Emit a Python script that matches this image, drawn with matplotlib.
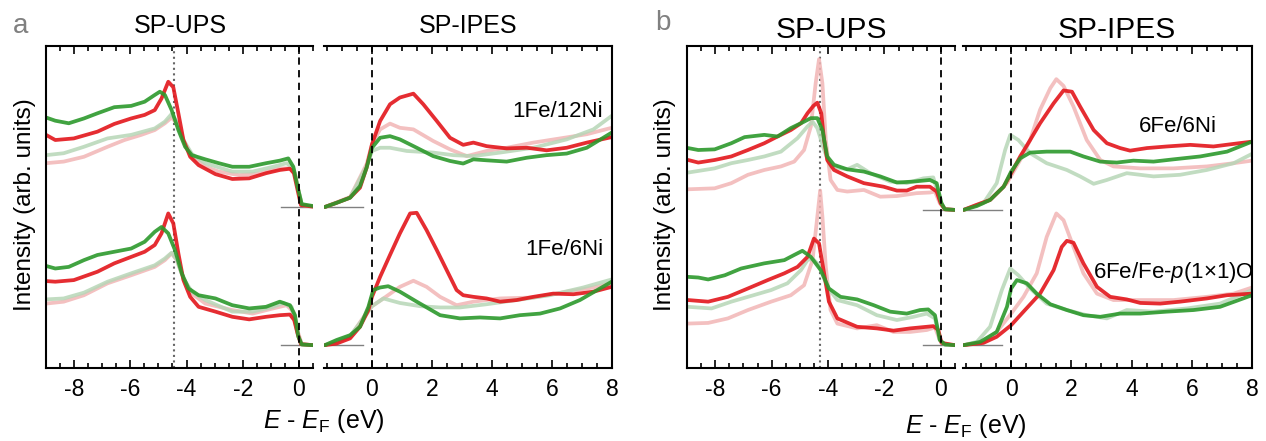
import matplotlib
matplotlib.use('Agg')
import matplotlib.pyplot as plt
from matplotlib.ticker import MultipleLocator

plt.rcParams['font.family'] = ['Liberation Sans', 'DejaVu Sans']
plt.rcParams['mathtext.fontset'] = 'custom'
plt.rcParams['mathtext.it'] = 'Liberation Sans:italic'
plt.rcParams['mathtext.rm'] = 'Liberation Sans'
plt.rcParams['axes.unicode_minus'] = False

# ---------------- panel a, 1Fe/12Ni (upper) ----------------
a1_ups_red_x = [-9.0, -8.67, -8.01, -7.17, -6.57, -5.97, -5.49, -5.13, -4.89, -4.65, -4.47, -4.29, -4.11, -3.87, -3.57, -2.97, -2.37, -1.77, -1.17, -0.68, -0.32, -0.18, -0.05, 0.07, 0.5]
a1_ups_red_y = [2.24, 2.08, 2.13, 2.34, 2.58, 2.75, 2.86, 3.01, 3.37, 3.89, 3.72, 2.91, 2.08, 1.56, 1.30, 1.02, 0.87, 0.89, 1.05, 1.15, 1.19, 1.05, 0.53, 0.06, 0.01]
a1_ups_grn_x = [-9.0, -8.67, -8.19, -7.65, -7.17, -6.57, -5.97, -5.49, -5.13, -4.95, -4.77, -4.53, -4.29, -4.05, -3.81, -3.33, -2.85, -2.37, -1.77, -1.17, -0.68, -0.38, -0.20, -0.05, 0.10, 0.5]
a1_ups_grn_y = [2.78, 2.68, 2.60, 2.75, 2.91, 3.10, 3.14, 3.27, 3.48, 3.58, 3.48, 3.01, 2.39, 1.87, 1.61, 1.48, 1.36, 1.25, 1.25, 1.36, 1.44, 1.51, 1.25, 0.63, 0.09, 0.03]
a1_ups_lred_x = [-9.0, -8.37, -7.65, -6.81, -6.21, -5.61, -5.13, -4.77, -4.53, -4.35, -4.11, -3.81, -3.33, -2.85, -2.13, -1.41, -0.68, -0.32, -0.14, -0.02, 0.10, 0.5]
a1_ups_lred_y = [1.36, 1.41, 1.56, 1.87, 2.08, 2.24, 2.39, 2.60, 2.78, 2.60, 2.08, 1.56, 1.25, 1.10, 0.99, 1.04, 1.20, 1.20, 1.05, 0.53, 0.06, 0.02]
a1_ups_lgrn_x = [-9.0, -8.37, -7.65, -6.81, -5.97, -5.13, -4.77, -4.53, -4.35, -4.11, -3.81, -3.33, -2.37, -1.65, -0.92, -0.44, -0.20, -0.02, 0.10, 0.5]
a1_ups_lgrn_y = [1.61, 1.67, 1.87, 2.13, 2.24, 2.44, 2.65, 2.89, 2.65, 2.08, 1.65, 1.36, 1.10, 1.10, 1.25, 1.36, 1.20, 0.53, 0.06, 0.02]

a1_ipes_red_x = [-1.57, -1.18, -0.73, -0.40, -0.18, 0, 0.27, 0.6, 0.93, 1.38, 1.71, 2.16, 2.6, 3.04, 3.38, 3.82, 4.49, 5.16, 5.82, 6.49, 7.16, 7.99]
a1_ipes_red_y = [0, 0.13, 0.29, 0.60, 1.22, 1.95, 2.67, 3.19, 3.40, 3.52, 3.19, 2.67, 2.15, 1.93, 2.0, 1.89, 1.82, 1.84, 1.76, 1.84, 2.0, 2.17]
a1_ipes_grn_x = [-1.57, -1.18, -0.73, -0.40, -0.18, 0, 0.27, 0.6, 0.93, 1.49, 2.04, 2.6, 3.04, 3.38, 3.82, 4.49, 5.16, 5.82, 6.49, 7.16, 7.99]
a1_ipes_grn_y = [0, 0.13, 0.29, 0.65, 1.22, 1.84, 2.15, 2.2, 2.1, 1.84, 1.58, 1.43, 1.35, 1.48, 1.45, 1.41, 1.53, 1.61, 1.66, 1.84, 2.31]
a1_ipes_lred_x = [-1.57, -0.73, -0.18, 0, 0.27, 0.6, 0.93, 1.38, 2.04, 2.6, 3.16, 3.82, 4.49, 5.38, 6.27, 7.16, 7.99]
a1_ipes_lred_y = [0, 0.31, 1.33, 1.95, 2.41, 2.59, 2.46, 2.41, 2.05, 1.79, 1.58, 1.74, 1.84, 2.0, 2.13, 2.26, 2.46]
a1_ipes_lgrn_x = [-1.57, -0.73, -0.18, 0, 0.27, 0.6, 1.16, 2.04, 2.71, 3.38, 4.27, 5.38, 6.49, 7.38, 7.99]
a1_ipes_lgrn_y = [0, 0.29, 1.27, 1.74, 1.84, 1.84, 1.74, 1.69, 1.61, 1.58, 1.69, 1.84, 2.10, 2.41, 2.83]

# ---------------- panel a, 1Fe/6Ni (lower) ----------------
a2_ups_red_x = [-9.0, -8.67, -8.01, -7.17, -6.57, -5.97, -5.49, -5.13, -4.89, -4.65, -4.47, -4.29, -4.11, -3.87, -3.57, -2.97, -2.37, -1.77, -1.17, -0.68, -0.32, -0.17, -0.05, 0.07, 0.5]
a2_ups_red_y = [1.99, 1.97, 2.02, 2.28, 2.54, 2.74, 2.90, 3.11, 3.47, 4.09, 3.78, 2.85, 2.02, 1.50, 1.19, 1.04, 0.88, 0.80, 0.88, 0.93, 0.95, 0.78, 0.36, 0.03, 0]
a2_ups_grn_x = [-9.0, -8.67, -8.19, -7.65, -7.17, -6.57, -5.97, -5.49, -5.13, -4.89, -4.65, -4.41, -4.17, -3.93, -3.57, -2.97, -2.37, -1.77, -1.17, -0.68, -0.32, -0.14, -0.02, 0.10, 0.5]
a2_ups_grn_y = [2.46, 2.38, 2.43, 2.64, 2.80, 2.90, 3.0, 3.21, 3.52, 3.67, 3.47, 2.95, 2.23, 1.76, 1.55, 1.45, 1.24, 1.14, 1.19, 1.35, 1.24, 0.93, 0.26, 0.02, 0.0]
a2_ups_lred_x = [-9.0, -8.37, -7.65, -6.81, -5.97, -5.13, -4.77, -4.53, -4.35, -4.11, -3.81, -3.33, -2.37, -1.65, -0.92, -0.44, -0.20, -0.02, 0.10, 0.5]
a2_ups_lred_y = [1.29, 1.35, 1.55, 1.92, 2.17, 2.43, 2.64, 2.85, 2.64, 2.07, 1.60, 1.29, 1.09, 0.98, 1.14, 1.24, 1.04, 0.36, 0.03, 0]
a2_ups_lgrn_x = [-9.0, -8.37, -7.65, -6.81, -5.97, -5.13, -4.77, -4.53, -4.35, -4.11, -3.81, -3.33, -2.37, -1.65, -0.92, -0.56, -0.26, -0.05, 0.10, 0.5]
a2_ups_lgrn_y = [1.42, 1.45, 1.63, 1.97, 2.23, 2.48, 2.69, 2.87, 2.66, 2.07, 1.66, 1.40, 1.04, 1.04, 1.19, 1.31, 1.19, 0.36, 0.03, 0]

a2_ipes_red_x = [-1.57, -1.18, -0.73, -0.40, -0.12, 0, 0.27, 0.6, 0.93, 1.27, 1.49, 1.82, 2.16, 2.49, 2.82, 3.04, 3.38, 3.82, 4.27, 4.82, 5.38, 6.04, 6.71, 7.38, 7.99]
a2_ipes_red_y = [0, 0.05, 0.21, 0.57, 1.09, 1.50, 2.12, 2.80, 3.47, 4.09, 4.11, 3.57, 2.95, 2.33, 1.71, 1.55, 1.50, 1.45, 1.35, 1.40, 1.50, 1.60, 1.58, 1.66, 1.81]
a2_ipes_grn_x = [-1.57, -1.18, -0.73, -0.40, -0.12, 0.04, 0.27, 0.54, 0.93, 1.49, 2.27, 2.93, 3.6, 4.27, 4.93, 5.6, 6.27, 6.93, 7.6, 7.99]
a2_ipes_grn_y = [0, 0.16, 0.31, 0.57, 1.19, 1.71, 1.79, 1.83, 1.66, 1.35, 0.93, 0.83, 0.86, 0.83, 0.93, 0.98, 1.14, 1.40, 1.76, 1.97]
a2_ipes_lred_x = [-1.57, -0.73, -0.12, 0, 0.38, 0.93, 1.38, 1.82, 2.27, 2.82, 3.38, 4.27, 5.38, 6.49, 7.38, 7.99]
a2_ipes_lred_y = [0, 0.26, 1.09, 1.21, 1.45, 1.81, 2.0, 1.81, 1.50, 1.24, 1.35, 1.45, 1.48, 1.66, 1.79, 1.92]
a2_ipes_lgrn_x = [-1.57, -0.73, -0.12, 0, 0.38, 0.93, 1.6, 2.27, 2.93, 3.82, 4.82, 5.93, 7.04, 7.99]
a2_ipes_lgrn_y = [0, 0.28, 1.04, 1.21, 1.45, 1.31, 1.21, 1.17, 1.17, 1.27, 1.40, 1.55, 1.79, 2.04]

# ---------------- panel b, 6Fe/6Ni (upper) ----------------
b1_ups_red_x = [-8.96, -8.60, -8.02, -7.43, -6.84, -6.26, -5.79, -5.32, -4.96, -4.73, -4.52, -4.38, -4.24, -4.14, -4.03, -3.79, -3.32, -2.73, -2.03, -1.56, -1.21, -0.86, -0.39, -0.15, -0.01, 0.14, 0.49]
b1_ups_red_y = [1.55, 1.47, 1.55, 1.66, 1.86, 2.07, 2.28, 2.48, 2.69, 3.0, 3.23, 3.33, 3.0, 2.17, 1.55, 1.24, 1.04, 0.83, 0.72, 0.60, 0.60, 0.72, 0.72, 0.57, 0.21, 0.02, 0]
b1_ups_grn_x = [-8.96, -8.60, -8.02, -7.43, -6.96, -6.26, -5.79, -5.32, -4.85, -4.61, -4.38, -4.20, -4.03, -3.79, -3.32, -2.73, -2.15, -1.56, -0.97, -0.39, -0.15, 0.02, 0.14, 0.49]
b1_ups_grn_y = [1.92, 1.86, 1.88, 2.07, 2.26, 2.33, 2.28, 2.54, 2.74, 2.85, 2.85, 2.48, 1.66, 1.40, 1.26, 1.19, 1.04, 0.85, 0.88, 0.93, 0.83, 0.21, 0.02, 0]
b1_ups_lred_x = [-8.96, -8.02, -7.43, -6.84, -6.26, -5.67, -5.20, -4.85, -4.61, -4.44, -4.32, -4.20, -4.08, -3.91, -3.67, -3.32, -2.73, -2.15, -1.56, -0.86, -0.39, -0.21, -0.04, 0.14, 0.49]
b1_ups_lred_y = [0.64, 0.67, 0.83, 1.09, 1.24, 1.35, 1.50, 1.86, 2.59, 3.93, 4.68, 3.93, 2.17, 0.93, 0.62, 0.57, 0.62, 0.41, 0.43, 0.52, 0.54, 0.57, 0.21, 0.02, 0]
b1_ups_lgrn_x = [-8.96, -8.02, -7.43, -6.84, -6.26, -5.67, -5.08, -4.73, -4.55, -4.38, -4.14, -3.91, -3.32, -2.97, -2.50, -1.80, -1.21, -0.62, -0.27, -0.04, 0.14, 0.49]
b1_ups_lgrn_y = [1.16, 1.29, 1.45, 1.55, 1.66, 1.81, 2.23, 2.59, 2.74, 2.54, 1.86, 1.35, 1.26, 1.40, 1.14, 0.88, 0.83, 0.98, 1.01, 0.31, 0.02, 0]

b1_ipes_red_x = [-1.58, -1.14, -0.70, -0.25, 0, 0.30, 0.63, 0.96, 1.41, 1.74, 2.02, 2.29, 2.74, 3.18, 3.62, 3.95, 4.51, 5.17, 5.95, 6.72, 7.39, 8.0]
b1_ipes_red_y = [0, 0.16, 0.31, 0.72, 1.14, 1.66, 2.17, 2.69, 3.31, 3.71, 3.67, 3.21, 2.48, 2.07, 1.92, 1.84, 1.92, 1.97, 2.02, 1.97, 2.05, 2.12]
b1_ipes_grn_x = [-1.58, -1.14, -0.70, -0.25, 0, 0.30, 0.63, 1.18, 1.96, 2.40, 2.96, 3.51, 4.06, 4.73, 5.39, 6.28, 7.17, 8.0]
b1_ipes_grn_y = [0, 0.12, 0.31, 0.72, 1.19, 1.60, 1.78, 1.81, 1.81, 1.66, 1.50, 1.47, 1.53, 1.50, 1.57, 1.66, 1.81, 2.12]
b1_ipes_lred_x = [-1.58, -0.70, -0.14, 0.30, 0.63, 0.96, 1.30, 1.50, 1.74, 2.07, 2.51, 2.96, 3.40, 4.29, 5.39, 6.50, 7.39, 8.0]
b1_ipes_lred_y = [0, 0.31, 0.83, 1.55, 2.17, 3.11, 3.78, 4.06, 3.85, 3.21, 2.17, 1.55, 1.35, 1.29, 1.29, 1.35, 1.45, 1.53]
b1_ipes_lgrn_x = [-1.58, -0.92, -0.48, -0.20, -0.03, 0.24, 0.63, 1.18, 1.85, 2.29, 2.74, 3.18, 3.84, 4.73, 5.61, 6.50, 7.39, 8.0]
b1_ipes_lgrn_y = [0, 0.21, 0.83, 1.86, 2.33, 2.17, 1.76, 1.45, 1.24, 1.04, 0.81, 0.93, 1.14, 1.04, 1.09, 1.24, 1.45, 1.74]

# ---------------- panel b, 6Fe/Fe-p(1x1)O (lower) ----------------
b2_ups_red_x = [-8.96, -8.25, -7.55, -6.84, -6.14, -5.55, -5.08, -4.73, -4.50, -4.32, -4.14, -3.97, -3.67, -2.97, -2.27, -1.68, -1.09, -0.50, -0.27, -0.09, 0.02, 0.49]
b2_ups_red_y = [1.40, 1.35, 1.50, 1.76, 2.02, 2.23, 2.43, 2.74, 3.31, 3.16, 2.23, 1.35, 0.83, 0.57, 0.52, 0.45, 0.52, 0.57, 0.59, 0.47, 0.07, 0]
b2_ups_grn_x = [-8.96, -8.60, -8.25, -7.66, -7.08, -6.26, -5.55, -5.20, -4.91, -4.61, -4.26, -3.97, -3.56, -2.97, -2.38, -1.80, -1.21, -0.74, -0.45, -0.21, -0.04, 0.14, 0.49]
b2_ups_grn_y = [2.12, 2.10, 2.04, 2.17, 2.38, 2.54, 2.64, 2.80, 2.93, 2.74, 2.33, 1.76, 1.50, 1.42, 1.24, 1.04, 0.98, 1.09, 1.11, 0.93, 0.16, 0.02, 0]
b2_ups_lred_x = [-8.96, -8.25, -7.55, -6.84, -6.02, -5.32, -4.85, -4.55, -4.38, -4.28, -4.20, -4.08, -3.91, -3.67, -2.97, -2.27, -1.68, -1.09, -0.50, -0.21, -0.04, 0.14, 0.49]
b2_ups_lred_y = [0.67, 0.69, 0.83, 1.09, 1.35, 1.55, 1.86, 2.64, 3.99, 4.8, 3.99, 2.43, 1.09, 0.67, 0.52, 0.62, 0.41, 0.41, 0.47, 0.55, 0.16, 0.02, 0]
b2_ups_lgrn_x = [-8.96, -8.13, -7.43, -6.84, -6.02, -5.44, -4.96, -4.73, -4.55, -4.32, -4.03, -3.67, -2.97, -2.27, -1.56, -0.97, -0.50, -0.21, -0.04, 0.14, 0.49]
b2_ups_lgrn_y = [1.19, 1.14, 1.35, 1.50, 1.71, 1.92, 2.33, 2.64, 2.69, 2.48, 1.81, 1.40, 1.24, 0.93, 0.78, 0.88, 0.98, 0.83, 0.16, 0.02, 0]

b2_ipes_red_x = [-1.58, -0.92, -0.48, 0, 0.41, 0.96, 1.41, 1.68, 1.85, 2.07, 2.40, 2.85, 3.29, 3.84, 4.29, 4.95, 5.61, 6.50, 7.17, 8.0]
b2_ipes_red_y = [0, 0.07, 0.26, 0.62, 1.04, 1.60, 2.33, 3.05, 3.24, 3.18, 2.54, 1.81, 1.50, 1.42, 1.31, 1.29, 1.35, 1.45, 1.55, 1.60]
b2_ipes_grn_x = [-1.58, -1.03, -0.48, -0.14, 0, 0.19, 0.52, 0.85, 1.30, 1.85, 2.40, 2.96, 3.62, 4.29, 5.17, 6.06, 6.94, 8.0]
b2_ipes_grn_y = [0, 0.10, 0.41, 1.19, 1.76, 2.02, 1.92, 1.60, 1.27, 1.09, 0.93, 0.88, 0.98, 0.98, 1.04, 1.09, 1.19, 1.55]
b2_ipes_lred_x = [-1.58, -0.92, -0.48, 0, 0.41, 0.85, 1.18, 1.50, 1.74, 2.07, 2.40, 2.85, 3.40, 4.29, 5.39, 6.50, 7.39, 8.0]
b2_ipes_lred_y = [0, 0.10, 0.41, 0.98, 1.50, 2.23, 3.36, 4.09, 3.88, 3.05, 2.23, 1.60, 1.40, 1.40, 1.40, 1.50, 1.60, 1.79]
b2_ipes_lgrn_x = [-1.58, -1.14, -0.70, -0.31, -0.03, 0.24, 0.63, 1.18, 1.85, 2.51, 3.18, 3.84, 4.73, 5.84, 6.94, 8.0]
b2_ipes_lgrn_y = [0, 0.10, 0.57, 1.71, 2.38, 2.17, 1.76, 1.29, 1.09, 0.93, 0.83, 1.09, 1.04, 1.14, 1.29, 1.71]

# vertical offsets of the two stacked spectra, and peak markers
a_offsets = [5.0, 0.71]
b_offsets = [4.91, 0.71]
a_peak = -4.45
b_peak = -4.28

RED = '#e3161b'
GREEN = '#2c992c'
LRED = '#f2b5b5'
LGREEN = '#b7d6b7'

W, H = 1266, 441


def box(x0, x1, y0=46, y1=368):
    return [x0 / W, 1 - y1 / H, (x1 - x0) / W, (y1 - y0) / H]


def setup(ax, xlim, hide):
    ax.set_xlim(*xlim)
    ax.set_ylim(0, 10)
    ax.xaxis.set_major_locator(MultipleLocator(2))
    ax.xaxis.set_minor_locator(MultipleLocator(0.5))
    ax.tick_params(axis='x', which='both', direction='in', top=True, width=1.2, labelsize=16.5)
    ax.tick_params(axis='x', which='major', length=6, pad=7)
    ax.tick_params(axis='x', which='minor', length=3.5)
    ax.set_yticks([])
    for s in ax.spines.values():
        s.set_linewidth(1.5)
    ax.spines[hide].set_visible(False)


def spectrum(ax, off, curves):
    (rx, ry), (gx, gy), (lrx, lry), (lgx, lgy) = curves
    kw = dict(lw=2.7, solid_joinstyle='round', solid_capstyle='round')
    ax.plot(lrx, [v + off for v in lry], color=LRED, alpha=0.85, **kw)
    ax.plot(lgx, [v + off for v in lgy], color=LGREEN, alpha=0.85, **kw)
    ax.plot(rx, [v + off for v in ry], color=RED, alpha=0.9, **kw)
    ax.plot(gx, [v + off for v in gy], color=GREEN, alpha=0.9, **kw)


def panel(x_ups, x_ipes, offsets, peak, ups_sets, ipes_sets):
    ax_u = fig.add_axes(box(*x_ups))
    ax_i = fig.add_axes(box(*x_ipes))
    setup(ax_u, (-9, 0.5), 'right')
    setup(ax_i, (-1.6, 8), 'left')
    for off, cu, ci in zip(offsets, ups_sets, ipes_sets):
        ax_u.plot([-0.65, 0.5], [off, off], color='gray', lw=1)
        ax_i.plot([-1.6, -0.3], [off, off], color='gray', lw=1)
        spectrum(ax_u, off, cu)
        spectrum(ax_i, off, ci)
    ax_u.axvline(peak, color='#666666', ls=':', lw=1.5, zorder=0)
    ax_u.axvline(0, color='k', ls=(0, (4, 3)), lw=1.3)
    ax_i.axvline(0, color='k', ls=(0, (4, 3)), lw=1.3)
    return ax_u, ax_i


fig = plt.figure(figsize=(12.66, 4.41), dpi=100)

panel((46, 313), (324, 612), a_offsets, a_peak,
      [[(a1_ups_red_x, a1_ups_red_y), (a1_ups_grn_x, a1_ups_grn_y), (a1_ups_lred_x, a1_ups_lred_y), (a1_ups_lgrn_x, a1_ups_lgrn_y)],
       [(a2_ups_red_x, a2_ups_red_y), (a2_ups_grn_x, a2_ups_grn_y), (a2_ups_lred_x, a2_ups_lred_y), (a2_ups_lgrn_x, a2_ups_lgrn_y)]],
      [[(a1_ipes_red_x, a1_ipes_red_y), (a1_ipes_grn_x, a1_ipes_grn_y), (a1_ipes_lred_x, a1_ipes_lred_y), (a1_ipes_lgrn_x, a1_ipes_lgrn_y)],
       [(a2_ipes_red_x, a2_ipes_red_y), (a2_ipes_grn_x, a2_ipes_grn_y), (a2_ipes_lred_x, a2_ipes_lred_y), (a2_ipes_lgrn_x, a2_ipes_lgrn_y)]])

panel((687, 955), (963, 1252), b_offsets, b_peak,
      [[(b1_ups_red_x, b1_ups_red_y), (b1_ups_grn_x, b1_ups_grn_y), (b1_ups_lred_x, b1_ups_lred_y), (b1_ups_lgrn_x, b1_ups_lgrn_y)],
       [(b2_ups_red_x, b2_ups_red_y), (b2_ups_grn_x, b2_ups_grn_y), (b2_ups_lred_x, b2_ups_lred_y), (b2_ups_lgrn_x, b2_ups_lgrn_y)]],
      [[(b1_ipes_red_x, b1_ipes_red_y), (b1_ipes_grn_x, b1_ipes_grn_y), (b1_ipes_lred_x, b1_ipes_lred_y), (b1_ipes_lgrn_x, b1_ipes_lgrn_y)],
       [(b2_ipes_red_x, b2_ipes_red_y), (b2_ipes_grn_x, b2_ipes_grn_y), (b2_ipes_lred_x, b2_ipes_lred_y), (b2_ipes_lgrn_x, b2_ipes_lgrn_y)]])


def ftext(x, y, s, **kw):
    fig.text(x / W, 1 - y / H, s, **kw)


# panel letters and headings
ftext(21, 26, 'a', fontsize=20, color='#808080', ha='center', va='center')
ftext(663, 23, 'b', fontsize=20, color='#808080', ha='center', va='center')
ftext(180, 33, 'SP-UPS', fontsize=18, ha='center', va='baseline')
ftext(468, 33, 'SP-IPES', fontsize=18, ha='center', va='baseline')
ftext(831, 38, 'SP-UPS', fontsize=21.5, ha='center', va='baseline')
ftext(1117, 38, 'SP-IPES', fontsize=21.5, ha='center', va='baseline')

# axis labels
xlab = '$E$ - $E_\\mathrm{F}$ (eV)'
ftext(324, 428, xlab, fontsize=18, ha='center', va='baseline')
ftext(966, 433, xlab, fontsize=18, ha='center', va='baseline')
ftext(25, 205, 'Intensity (arb. units)', fontsize=17.5, rotation=90, ha='center', va='center')
ftext(665, 205, 'Intensity (arb. units)', fontsize=17.5, rotation=90, ha='center', va='center')

# sample labels
ftext(603, 117, '1Fe/12Ni', fontsize=16, ha='right', va='baseline')
ftext(603, 255, '1Fe/6Ni', fontsize=16, ha='right', va='baseline')
ftext(1217, 132, '6Fe/6Ni', fontsize=16, ha='right', va='baseline')
ftext(1254, 278, '6Fe/Fe-$p$(1×1)O', fontsize=16, ha='right', va='baseline')

fig.savefig('out.png', dpi=100)
